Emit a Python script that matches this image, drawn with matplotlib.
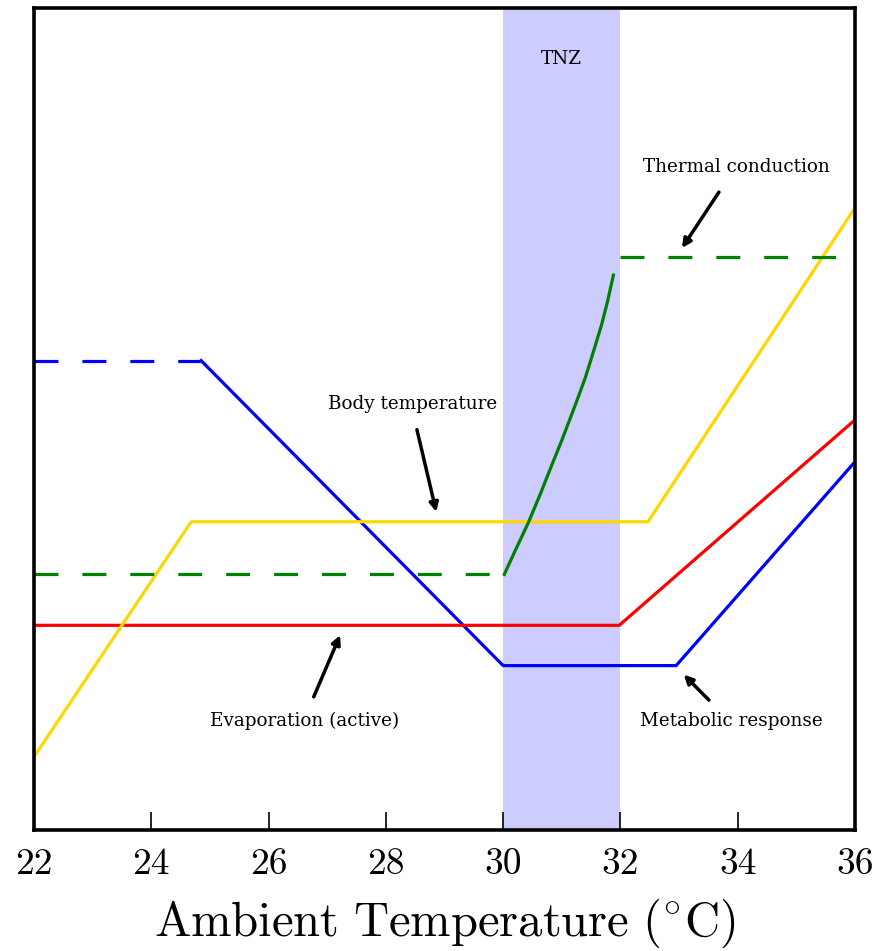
import matplotlib
matplotlib.use("Agg")
import matplotlib.pyplot as plt

plt.rcParams['mathtext.fontset'] = 'cm'
plt.rcParams['axes.unicode_minus'] = False

# ---- data ----
xticks = [22, 24, 26, 28, 30, 32, 34, 36]

tnz_range = [30, 32]

# metabolic response (blue)
blue_dash_x = [22, 24.85]
blue_dash_y = [5.71, 5.71]
blue_x = [24.85, 30.0, 32.95, 36.0]
blue_y = [5.71, 2.00, 2.00, 4.48]

# evaporation (red)
red_x = [22.0, 31.98, 36.0]
red_y = [2.49, 2.49, 4.99]

# body temperature (gold)
yellow_x = [22.0, 24.68, 32.47, 36.0]
yellow_y = [0.89, 3.75, 3.75, 7.57]

# thermal conduction (green)
green_low_x = [22.0, 30.0]
green_low_y = [3.11, 3.11]
green_curve_x = [30.02, 30.20, 30.43, 30.63, 30.83, 31.00, 31.23, 31.40, 31.54, 31.68, 31.78, 31.88]
green_curve_y = [3.11, 3.39, 3.74, 4.08, 4.44, 4.74, 5.17, 5.50, 5.82, 6.15, 6.43, 6.75]
green_high_x = [32.0, 36.0]
green_high_y = [6.97, 6.97]

fig = plt.figure(figsize=(8.83, 9.51), dpi=100)
ax = fig.add_axes([34/883, 121/951, 821/883, 822/951])

ax.axvspan(tnz_range[0], tnz_range[1], color='blue', alpha=0.2, lw=0, zorder=0)

lw = 2.3
dash = (7.5, 7.5)
ax.plot(blue_dash_x, blue_dash_y, color='blue', lw=lw, dashes=dash, dash_capstyle='butt')
ax.plot(blue_x, blue_y, color='blue', lw=lw)
ax.plot(red_x, red_y, color='red', lw=lw)
ax.plot(yellow_x, yellow_y, color='gold', lw=lw)
ax.plot(green_low_x, green_low_y, color='green', lw=lw, dashes=dash, dash_capstyle='butt')
ax.plot(green_curve_x, green_curve_y, color='green', lw=lw, solid_joinstyle='round')
ax.plot(green_high_x, green_high_y, color='green', lw=lw, dashes=dash, dash_capstyle='butt')

ax.set_xlim(22, 36)
ax.set_ylim(0, 10)
ax.set_xticks(xticks)
ax.set_xticklabels([str(t) for t in xticks], family='cmr10', fontsize=27)
ax.set_yticks([])
ax.tick_params(axis='x', direction='in', length=13, width=1.2, pad=13)
for s in ax.spines.values():
    s.set_linewidth(2.6)
ax.set_xlabel(r'$\mathrm{Ambient\ Temperature\ (^{\circ}C)}$', fontsize=35, labelpad=11)

tfont = dict(family='DejaVu Serif', fontsize=13.2, ha='center', va='center')
ax.text(31.0, 9.38, 'TNZ', **tfont)

arrowprops = dict(arrowstyle='-|>', color='black', lw=2.5, mutation_scale=13, shrinkA=0, shrinkB=0)
ax.text(33.97, 8.07, 'Thermal conduction', **tfont)
ax.annotate('', xy=(33.05, 7.08), xytext=(33.68, 7.76), arrowprops=arrowprops)
ax.text(28.46, 5.18, 'Body temperature', **tfont)
ax.annotate('', xy=(28.86, 3.87), xytext=(28.53, 4.87), arrowprops=arrowprops)
ax.text(26.62, 1.33, 'Evaporation (active)', **tfont)
ax.annotate('', xy=(27.22, 2.37), xytext=(26.77, 1.62), arrowprops=arrowprops)
ax.text(33.89, 1.33, 'Metabolic response', **tfont)
ax.annotate('', xy=(33.08, 1.89), xytext=(33.51, 1.58), arrowprops=arrowprops)

fig.savefig('out.png', dpi=100)
